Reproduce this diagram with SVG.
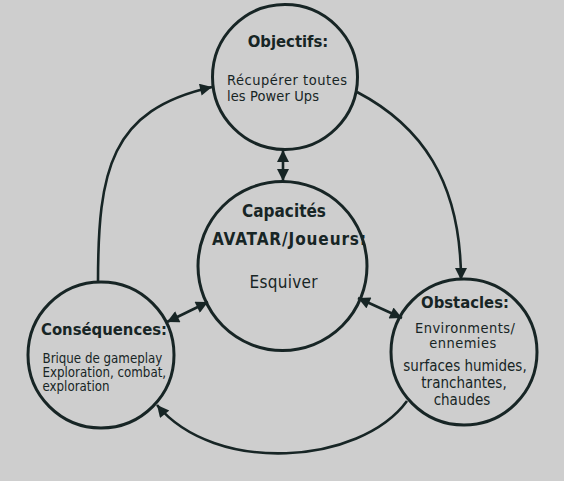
<svg xmlns="http://www.w3.org/2000/svg" width="564" height="481" viewBox="0 0 564 481">
<defs>
<style>
.node{fill:none;stroke:#172525;stroke-width:3}
.conn{fill:none;stroke:#172525;stroke-width:2.6}
text{font-family:"DejaVu Sans Condensed","DejaVu Sans",sans-serif;font-stretch:condensed;fill:#172525}
.b{font-weight:bold}
.m{text-anchor:middle}
</style>
<marker id="ah" viewBox="0 0 10 10" refX="10" refY="5" markerUnits="userSpaceOnUse" markerWidth="14" markerHeight="12" orient="auto-start-reverse">
<path d="M0,0 L10,5 L0,10 Z" fill="#172525"/>
</marker>
</defs>
<rect width="564" height="481" fill="#cecece"/>
<g id="connectors">
<path class="conn" d="M98,283 C98,170 110,110 212,87" marker-end="url(#ah)"/>
<path class="conn" d="M357,92 C420,125 461,180 461,280" marker-end="url(#ah)"/>
<path class="conn" d="M407,401 C360,465 215,475 157,405" marker-end="url(#ah)"/>
<path class="conn" d="M283,150 L283,181" marker-start="url(#ah)" marker-end="url(#ah)"/>
<path class="conn" d="M167,322 L208,302" marker-start="url(#ah)" marker-end="url(#ah)"/>
<path class="conn" d="M358,298 L402,318" marker-start="url(#ah)" marker-end="url(#ah)"/>
</g>
<g id="objectifs">
<circle class="node" cx="285" cy="77" r="72.5"/>
<text class="b m" x="288" y="47" font-size="16.5">Objectifs:</text>
<text x="227" y="85" font-size="14.5" textLength="120" lengthAdjust="spacing">Récupérer toutes</text>
<text x="227" y="100.5" font-size="14.5" textLength="92" lengthAdjust="spacing">les Power Ups</text>
</g>
<g id="capacites">
<circle class="node" cx="282.5" cy="266" r="84.5"/>
<text class="b m" x="284" y="217" font-size="17">Capacités</text>
<text class="b m" x="289" y="245" font-size="17" textLength="154" lengthAdjust="spacing">AVATAR/Joueurs:</text>
<text class="m" x="283.5" y="288" font-size="17" textLength="68" lengthAdjust="spacing">Esquiver</text>
</g>
<g id="consequences">
<circle class="node" cx="101" cy="355" r="73"/>
<text class="b" x="41" y="335" font-size="16.5">Conséquences:</text>
<text x="42.5" y="363" font-size="13.2">Brique de gameplay</text>
<text x="42.5" y="377" font-size="13.2">Exploration, combat,</text>
<text x="42.5" y="391" font-size="13.2">exploration</text>
</g>
<g id="obstacles">
<circle class="node" cx="464" cy="352" r="73"/>
<text class="b m" x="465" y="308" font-size="16.5">Obstacles:</text>
<text class="m" x="465" y="333" font-size="14.5" textLength="100" lengthAdjust="spacing">Environments/</text>
<text class="m" x="462.7" y="348" font-size="14.5" textLength="67" lengthAdjust="spacing">ennemies</text>
<text class="m" x="465" y="371" font-size="15">surfaces humides,</text>
<text class="m" x="464" y="388" font-size="15">tranchantes,</text>
<text class="m" x="462" y="405" font-size="15">chaudes</text>
</g>
</svg>
